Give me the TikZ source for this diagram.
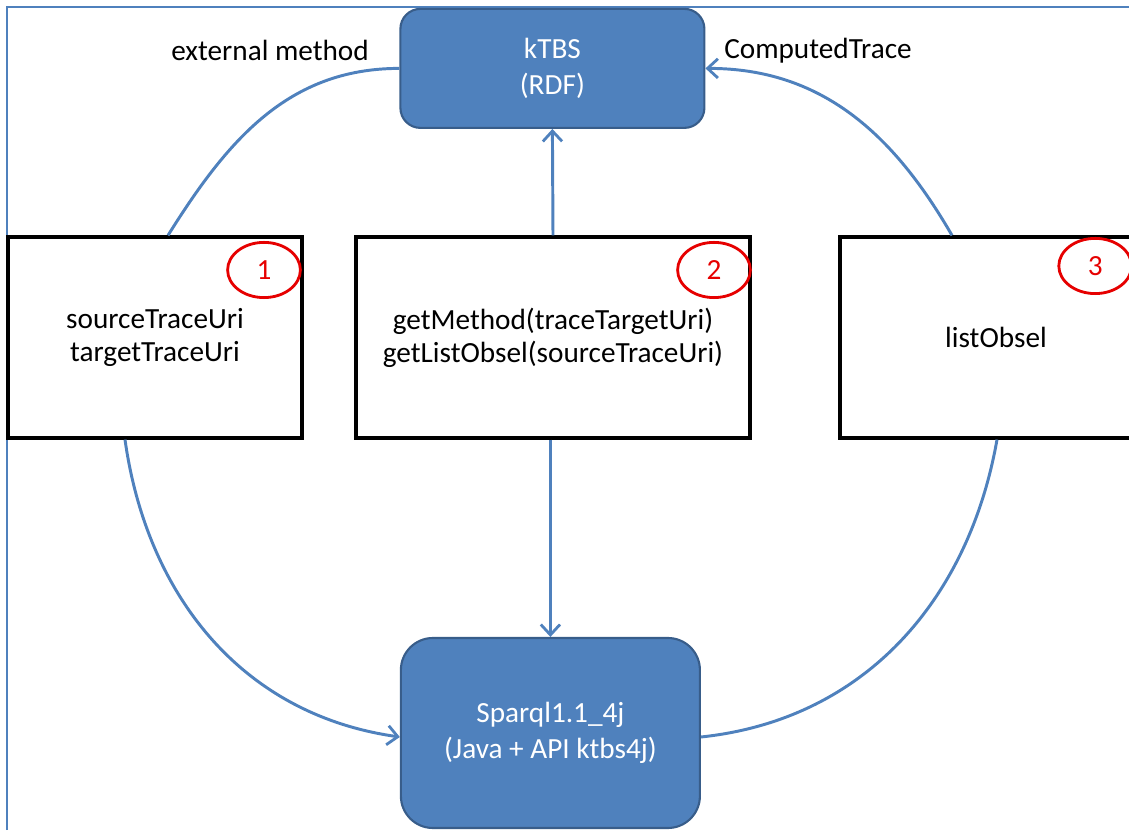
\documentclass[tikz,border=0pt]{standalone}
\usepackage{fontspec}
\setmainfont{Carlito}
\usetikzlibrary{arrows.meta,shapes.geometric}

\definecolor{ktbsFlow}{RGB}{79,129,189}
\definecolor{ktbsFill}{RGB}{79,129,189}
\definecolor{ktbsEdge}{RGB}{56,93,138}
\definecolor{ktbsMark}{RGB}{230,0,0}

\begin{document}
\begin{tikzpicture}[x=1cm,y=1cm,
      label/.style={font=\fontsize{20.8}{25}\selectfont, text=black},
      store/.style={draw=ktbsEdge, fill=ktbsFill, line width=1.5pt,
        font=\fontsize{20.8}{26}\selectfont, text=white, align=center,
        inner sep=0pt},
      call/.style={draw=black, line width=2.3pt, fill=white,
        font=\fontsize{20.8}{23.5}\selectfont, align=center, inner sep=0pt},
      stepmark/.style={ellipse, draw=ktbsMark, line width=2pt,
        minimum width=1.82cm, minimum height=1.38cm, inner sep=0pt,
        font=\fontsize{20.8}{25}\selectfont, text=ktbsMark},
      flow/.style={draw=ktbsFlow, line width=2.1pt},
      tip/.style={-{Straight Barb[length=2.6mm,width=4.8mm,line width=2pt]}}]
      \useasboundingbox (0,0) rectangle (28.225,20.75);

      % Frame, only its left and top edges lie inside the picture.
      \draw[ktbsFlow, line width=1pt] (.175,0) -- (.175,20.575) -- (29,20.575);

      \node[store, rounded corners=.5cm, minimum width=7.6cm,
        minimum height=2.975cm] (ktbs) at (13.81,19.04) {kTBS\\(RDF)};
      \node[store, rounded corners=.8cm, minimum width=7.475cm,
        minimum height=4.75cm] (sparql) at (13.76,2.425)
        {Sparql1.1\_4j\\(Java + API ktbs4j)};

      \node[call, minimum width=7.35cm, minimum height=5.025cm] (uris)
        at (3.875,12.3125) {sourceTraceUri\\targetTraceUri};
      \node[call, minimum width=9.85cm, minimum height=5.025cm] (calls)
        at (13.825,12.3125) {getMethod(traceTargetUri)\\getListObsel(sourceTraceUri)};
      \node[call, minimum width=7.8cm, minimum height=5.025cm] (obsels)
        at (24.9,12.3125) {listObsel};

      \node[stepmark] (one) at (6.6,14.0) {1};
      \node[stepmark] (two) at (17.85,14.0) {2};
      \node[stepmark] (three) at (27.38,14.1) {3};

      \node[label] (method) at (6.75,19.5) {external method};
      \node[label] (computed) at (20.45,19.475) {ComputedTrace};

      % Connectors between the stores and the three steps.
      \draw[flow] ([xshift=.325cm]uris.north) to[out=58,in=180] (ktbs.west);
      \draw[flow, tip] ([xshift=-1.1cm]obsels.north) to[out=120,in=0] (ktbs.east);
      \draw[flow, tip] (calls.north) -- (ktbs.south);
      \draw[flow, tip] (sparql.north |- calls.south) -- (sparql.north);
      \draw[flow, tip] ([xshift=-.75cm]uris.south) to[out=-82,in=172]
        ([yshift=-.1cm]sparql.west);
      \draw[flow] ([xshift=.025cm]obsels.south) to[out=-100,in=6]
        ([yshift=-.1cm]sparql.east);
    \end{tikzpicture}
\end{document}
